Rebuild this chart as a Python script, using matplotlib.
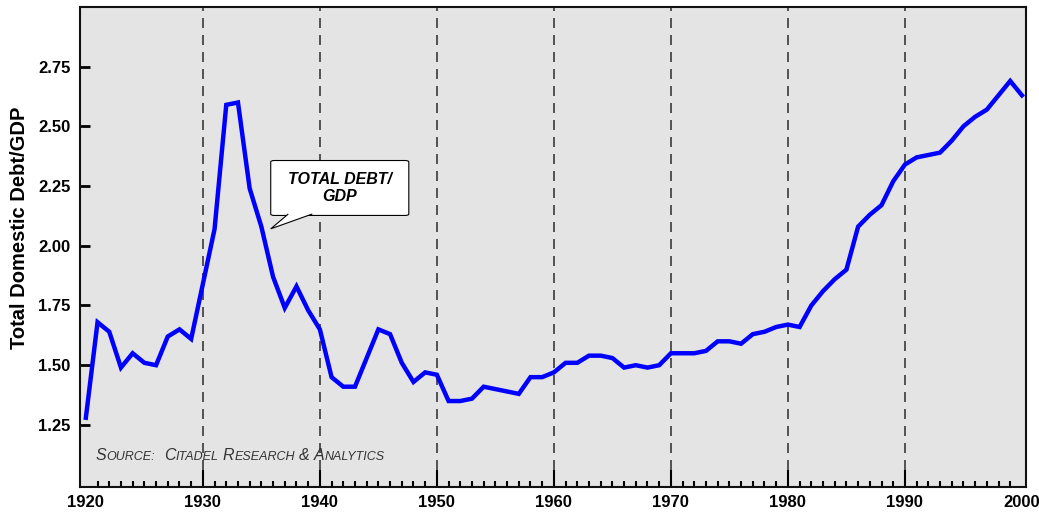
import matplotlib
matplotlib.use('Agg')
import matplotlib.pyplot as plt
from matplotlib.patches import FancyBboxPatch, Polygon
from matplotlib.transforms import offset_copy

plt.rcParams['font.family'] = ['Liberation Sans', 'DejaVu Sans']

# Total domestic debt / GDP, 1920-2000
years = list(range(1920, 2001))
debt_gdp = [
    1.28, 1.68, 1.64, 1.49, 1.55, 1.51, 1.50, 1.62, 1.65, 1.61,   # 1920s
    1.84, 2.07, 2.59, 2.60, 2.24, 2.08, 1.87, 1.74, 1.83, 1.73,   # 1930s
    1.65, 1.45, 1.41, 1.41, 1.53, 1.65, 1.63, 1.51, 1.43, 1.47,   # 1940s
    1.46, 1.35, 1.35, 1.36, 1.41, 1.40, 1.39, 1.38, 1.45, 1.45,   # 1950s
    1.47, 1.51, 1.51, 1.54, 1.54, 1.53, 1.49, 1.50, 1.49, 1.50,   # 1960s
    1.55, 1.55, 1.55, 1.56, 1.60, 1.60, 1.59, 1.63, 1.64, 1.66,   # 1970s
    1.67, 1.66, 1.75, 1.81, 1.86, 1.90, 2.08, 2.13, 2.17, 2.27,   # 1980s
    2.34, 2.37, 2.38, 2.39, 2.44, 2.50, 2.54, 2.57, 2.63, 2.69,   # 1990s
    2.63,                                                          # 2000
]
decades = list(range(1920, 2001, 10))
ytick_vals = [1.25, 1.50, 1.75, 2.00, 2.25, 2.50, 2.75]

BG = '#E4E4E4'
LINE = '#0000FF'


def small_caps(ax, x, y, words, big=11.5, small=9.0, color='#333333'):
    """Draw italic small-caps text word by word, measuring each chunk."""
    fig = ax.figure
    r = fig.canvas.get_renderer()
    space = big * 0.278 * fig.dpi / 72
    dx = 0.0
    for w in words:
        if w == '':
            dx += space
            continue
        chunks = [(w[0].upper(), big)]
        if len(w) > 1:
            chunks.append((w[1:].upper(), small))
        for txt, fs in chunks:
            t = ax.text(x, y, txt, fontsize=fs, style='italic', color=color,
                        ha='left', va='baseline',
                        transform=offset_copy(ax.transAxes, fig, x=dx, y=0, units='dots'))
            dx += t.get_window_extent(r).width
        dx += space


fig = plt.figure(figsize=(10.39, 5.14), dpi=100)
ax = fig.add_axes([0.077, 0.0525, 0.9105, 0.934])
ax.set_facecolor(BG)

for d in decades[1:-1]:
    ax.axvline(d, color='#3a3a3a', lw=1.2, ls=(0, (6, 4.2)), zorder=1)

ax.plot(years, debt_gdp, color=LINE, lw=3.2, solid_joinstyle='miter', zorder=3)

ax.set_xlim(1919.5, 2000.35)
ax.set_ylim(0.99, 3.0)

ax.set_yticks(ytick_vals)
ax.set_yticklabels([f'{v:.2f}' for v in ytick_vals])
ax.set_xticks(decades)
ax.set_xticks(range(1921, 2000), minor=True)
ax.tick_params(axis='y', direction='in', length=7, width=2, labelsize=12, pad=7)
ax.tick_params(axis='x', which='major', direction='in', length=12, width=1.5,
               labelsize=12, pad=6)
ax.tick_params(axis='x', which='minor', direction='in', length=4, width=1.5)
for lab in ax.get_xticklabels() + ax.get_yticklabels():
    lab.set_fontweight('bold')
xt = ax.xaxis.get_major_ticks()
xt[0].tick1line.set_visible(False)
xt[-1].tick1line.set_visible(False)

for s in ax.spines.values():
    s.set_linewidth(1.5)
    s.set_color('#111111')

ax.set_ylabel('Total Domestic Debt/GDP', fontsize=14.5, fontweight='bold')
ax.yaxis.set_label_coords(-0.054, 0.54)

# callout box
bx0, bx1 = 1935.8, 1947.6
by0, by1 = 2.127, 2.357
box = FancyBboxPatch((bx0, by0), bx1 - bx0, by1 - by0,
                     boxstyle='round,pad=0,rounding_size=0.3',
                     mutation_aspect=0.02, facecolor='white', edgecolor='black',
                     lw=0.8, zorder=5)
ax.add_patch(box)
tail = Polygon([(1937.3, by0 + 0.006), (1935.8, 2.071), (1939.35, by0 + 0.006)],
               closed=False, facecolor='white', edgecolor='black', lw=0.8, zorder=6)
ax.add_patch(tail)
ax.text((bx0 + bx1) / 2, (by0 + by1) / 2, 'TOTAL DEBT/\nGDP', ha='center', va='center',
        fontsize=11.5, fontweight='bold', style='italic', zorder=7, linespacing=1.15)

small_caps(ax, 0.0165, 0.0565, ['Source:', '', 'Citadel', 'Research', '&', 'Analytics'])

fig.savefig('out.png', dpi=100)
